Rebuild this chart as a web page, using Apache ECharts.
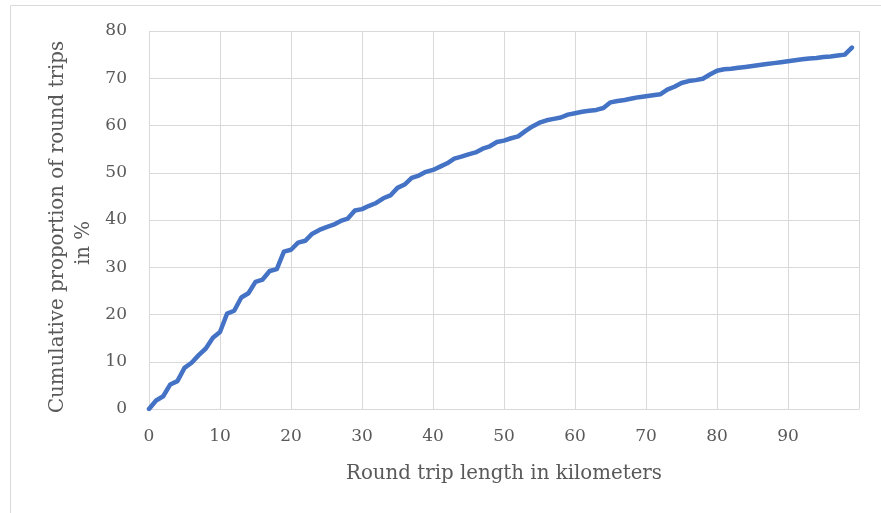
<!DOCTYPE html>
<html>
<head>
<meta charset="utf-8">
<script src="https://cdn.jsdelivr.net/npm/echarts@6/dist/echarts.min.js"></script>
<style>
html,body{margin:0;padding:0;background:#fff;}
#c{width:881px;height:513px;}
</style>
</head>
<body>
<div id="c"></div>
<script>
// Round trip length (km)
const km = [0,1,2,3,4,5,6,7,8,9,10,11,12,13,14,15,16,17,18,19,20,21,22,23,24,25,26,27,28,29,30,31,32,33,34,35,36,37,38,39,40,41,42,43,44,45,46,47,48,49,50,51,52,53,54,55,56,57,58,59,60,61,62,63,64,65,66,67,68,69,70,71,72,73,74,75,76,77,78,79,80,81,82,83,84,85,86,87,88,89,90,91,92,93,94,95,96,97,98,99];
// Cumulative proportion of round trips (%)
const share = [0,1.8,2.7,5.2,5.9,8.7,9.8,11.4,12.8,15.1,16.3,20.2,20.8,23.6,24.5,26.9,27.4,29.2,29.6,33.3,33.7,35.2,35.6,37.1,37.9,38.5,39.0,39.8,40.3,42.0,42.3,43.0,43.6,44.6,45.2,46.8,47.5,48.9,49.4,50.2,50.6,51.3,52.0,53.0,53.4,53.9,54.3,55.1,55.6,56.5,56.8,57.3,57.7,58.8,59.8,60.6,61.1,61.4,61.7,62.3,62.6,62.9,63.1,63.3,63.7,64.9,65.2,65.4,65.7,66.0,66.2,66.4,66.6,67.6,68.2,69.0,69.4,69.6,69.9,70.8,71.6,71.9,72.0,72.2,72.4,72.6,72.8,73.0,73.2,73.4,73.6,73.8,74.0,74.2,74.3,74.5,74.6,74.8,75.0,76.5];
const xTickLabels = [0,10,20,30,40,50,60,70,80,90];
const yTickLabels = [0,10,20,30,40,50,60,70,80];
const xTitle = 'Round trip length in kilometers';
const yTitleLines = ['Cumulative proportion of round trips', 'in %'];

const FONT = 'DejaVu Serif';
const chart = echarts.init(document.getElementById('c'), null, {renderer:'canvas'});
chart.setOption({
  animation:false,
  backgroundColor:'#fff',
  grid:{left:149, top:31, width:710, height:378, containLabel:false},
  graphic:[
    {type:'rect', shape:{x:10.5,y:5.5,width:900,height:520}, style:{fill:'none', stroke:'#d9d9d9', lineWidth:1}, z:-10},
    {type:'text', x:58, y:227, rotation:Math.PI/2,
     style:{text:yTitleLines[0], font:'19.8px "'+FONT+'"', fill:'#595959', align:'center', verticalAlign:'middle'}},
    {type:'text', x:84, y:243, rotation:Math.PI/2,
     style:{text:yTitleLines[1], font:'19.8px "'+FONT+'"', fill:'#595959', align:'center', verticalAlign:'middle'}}
  ],
  xAxis:{type:'value', min:0, max:100, interval:10,
    name:xTitle, nameLocation:'middle', nameGap:55,
    nameTextStyle:{fontFamily:FONT, fontSize:19.8, color:'#595959'},
    axisLine:{show:true, lineStyle:{color:'#d9d9d9', width:1}},
    axisTick:{show:false},
    axisLabel:{margin:19, fontFamily:FONT, fontSize:17, color:'#595959',
      formatter:function(v){return xTickLabels.indexOf(v)>=0 ? String(v) : '';}},
    splitLine:{show:true, lineStyle:{color:'#d9d9d9', width:1}}
  },
  yAxis:{type:'value', min:0, max:80, interval:10,
    axisLine:{show:false}, axisTick:{show:false},
    axisLabel:{margin:22, fontFamily:FONT, fontSize:17, color:'#595959',
      formatter:function(v){return yTickLabels.indexOf(v)>=0 ? String(v) : '';}},
    splitLine:{show:true, lineStyle:{color:'#d9d9d9', width:1}}
  },
  series:[{type:'line', data:km.map(function(k,i){return [k, share[i]];}),
    showSymbol:false, symbol:'none', smooth:false,
    lineStyle:{color:'#4472C4', width:4.5, cap:'round', join:'round'}}]
});
</script>
</body>
</html>
